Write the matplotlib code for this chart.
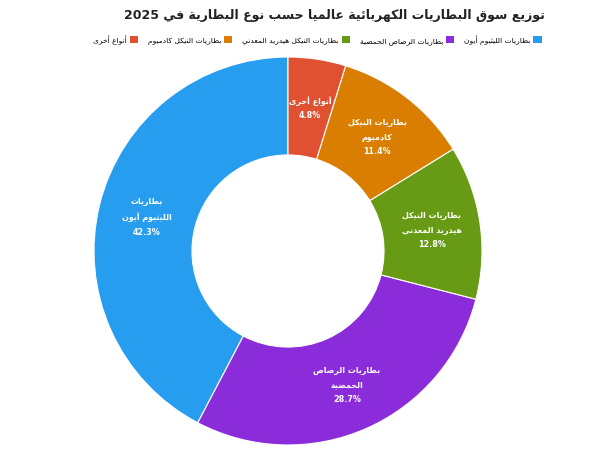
import re

import matplotlib
matplotlib.use('Agg')
import matplotlib.pyplot as plt
from matplotlib.patches import Patch

title = 'توزيع سوق البطاريات الكهربائية عالميا حسب نوع البطارية في 2025'
categories = [
    'بطاريات الليثيوم أيون',
    'بطاريات الرصاص الحمضية',
    'بطاريات النيكل هيدريد المعدني',
    'بطاريات النيكل كادميوم',
    'أنواع أخرى',
]
# wrapped versions used inside the slices
slice_labels = [
    'بطاريات\nالليثيوم أيون',
    'بطاريات الرصاص\nالحمضية',
    'بطاريات النيكل\nهيدريد المعدني',
    'بطاريات النيكل\nكادميوم',
    'أنواع أخرى',
]
shares = [42.3, 28.7, 12.8, 11.4, 4.8]
colors = ['#279DEF', '#8B2CDA', '#689B15', '#D97E00', '#E05131']


# matplotlib has no Arabic shaping, so map letters to presentation forms
# (isolated, final, initial, medial) and put them in visual order
_codes = list(range(0x0621, 0x063B)) + list(range(0x0641, 0x064B))
_nforms = [1, 2, 2, 2, 2, 4, 2, 4, 2, 4, 4, 4, 4, 4, 2, 2, 2, 2, 4, 4,
           4, 4, 4, 4, 4, 4, 4, 4, 4, 4, 4, 4, 4, 2, 2, 4]
FORMS = {}
_start = 0xFE80
for code, n in zip(_codes, _nforms):
    FORMS[chr(code)] = [chr(_start + i) for i in range(n)]
    _start += n
LAM_ALEF = {'آ': 0xFEF5, 'أ': 0xFEF7, 'إ': 0xFEF9, 'ا': 0xFEFB}


def shape_line(text):
    out = []
    i = 0
    while i < len(text):
        ch = text[i]
        if ch not in FORMS:
            out.append(ch)
            i += 1
            continue
        prev = text[i - 1] if i > 0 else ''
        joins_prev = prev in FORMS and len(FORMS[prev]) == 4 and len(FORMS[ch]) > 1
        if ch == 'ل' and i + 1 < len(text) and text[i + 1] in LAM_ALEF:
            out.append(chr(LAM_ALEF[text[i + 1]] + (1 if joins_prev else 0)))
            i += 2
            continue
        nxt = text[i + 1] if i + 1 < len(text) else ''
        joins_next = len(FORMS[ch]) == 4 and nxt in FORMS and len(FORMS[nxt]) > 1
        if joins_prev and joins_next:
            form = 3
        elif joins_prev:
            form = 1
        elif joins_next:
            form = 2
        else:
            form = 0
        out.append(FORMS[ch][form])
        i += 1
    visual = ''.join(out)[::-1]
    # numbers stay left to right
    return re.sub(r'[0-9.%]+', lambda m: m.group(0)[::-1], visual)


def ar(text):
    return '\n'.join(shape_line(line) for line in text.split('\n'))


plt.rcParams['font.family'] = ['DejaVu Sans']

fig = plt.figure(figsize=(5.9, 4.52), dpi=100)
ax = fig.add_axes([(288 - 194) / 590, (452 - 252 - 194) / 452, 388 / 590, 388 / 452])

labels = [ar(lab) + '\n' + f'{v}%' for lab, v in zip(slice_labels, shares)]
wedges, texts = ax.pie(
    shares,
    colors=colors,
    labels=labels,
    labeldistance=0.75,
    startangle=90,
    counterclock=True,
    radius=1,
    wedgeprops=dict(width=0.505, edgecolor='white', linewidth=0.8),
)
for t in texts:
    t.set(ha='center', va='center', color='white', fontsize=5.8,
          fontweight='bold', linespacing=1.8)
ax.set_xlim(-1, 1)
ax.set_ylim(-1, 1)
ax.set_aspect('equal')
ax.axis('off')

fig.text(545 / 590, 1 - 15 / 452, ar(title), ha='right', va='center',
         fontsize=9.0, fontweight='bold', color='#222222')

handles = [Patch(facecolor=c, edgecolor='none') for c in colors]
fig.legend(handles[::-1], [ar(c) for c in categories][::-1],
           loc='center right', bbox_to_anchor=(546 / 590, 1 - 40 / 452),
           ncol=5, markerfirst=False, frameon=False, fontsize=5.4,
           handlelength=1.1, handleheight=1.1, handletextpad=0.4,
           columnspacing=1.3, borderpad=0.1)

fig.savefig('out.png', dpi=100)
